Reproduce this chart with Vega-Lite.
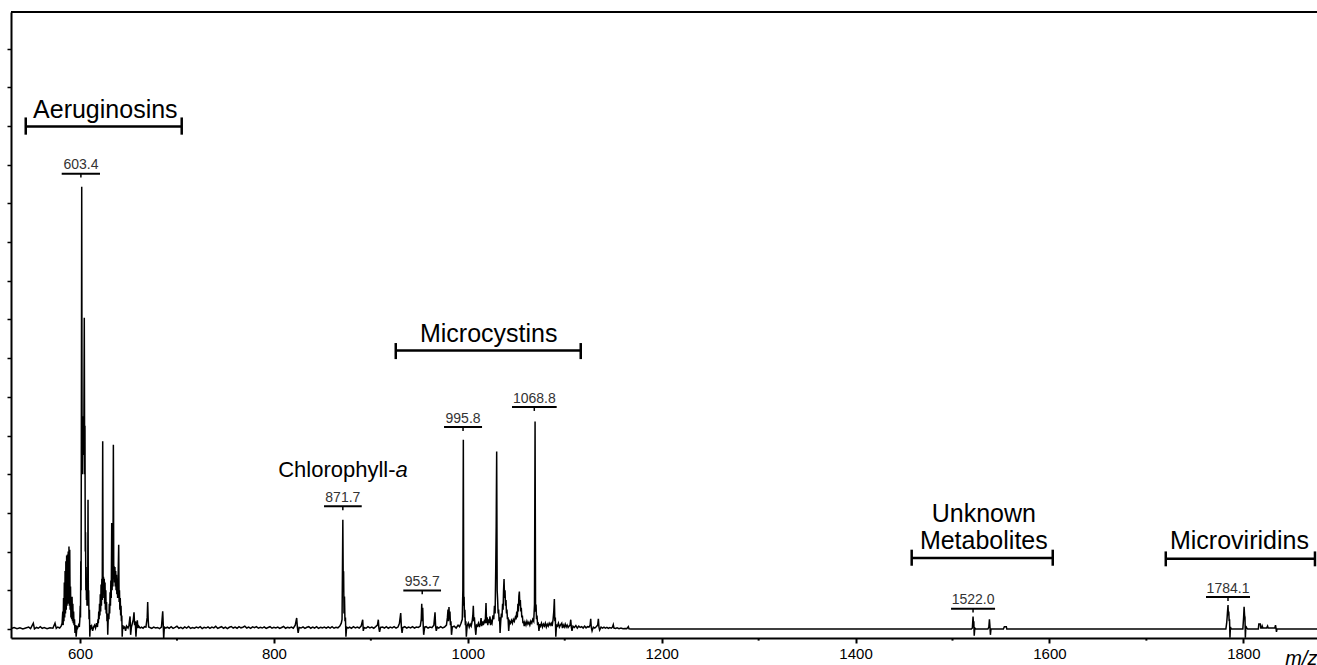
{
"$schema": "https://vega.github.io/schema/vega-lite/v6.json",
"width": 1306,
"height": 626,
"autosize": {"type": "none"},
"padding": {"left": 11, "top": 12, "right": 0, "bottom": 27},
"background": "white",
"config": {"view": {"stroke": null}},
"datasets": {
"spectrum": [
{"mz":529,"intensity":0.03},{"mz":532,"intensity":0.08},{"mz":535,"intensity":0.02},{"mz":538,"intensity":0.06},{"mz":541,"intensity":0.0},{"mz":544,"intensity":0.05},{"mz":547,"intensity":0.1},{"mz":549,"intensity":0.02},{"mz":551.8,"intensity":0.3},{"mz":553,"intensity":0.0},{"mz":555,"intensity":0.08},{"mz":557,"intensity":0.04},{"mz":559,"intensity":0.12},{"mz":561,"intensity":0.03},{"mz":563,"intensity":0.07},{"mz":566,"intensity":0.02},{"mz":569,"intensity":0.06},{"mz":572,"intensity":0.04},{"mz":574.2,"intensity":0.3},{"mz":575.5,"intensity":0.03},{"mz":577,"intensity":0.1},{"mz":579,"intensity":0.05},{"mz":580.5,"intensity":0.15},
{"mz":581.5,"intensity":0.3},{"mz":582.2,"intensity":0.9},{"mz":582.6,"intensity":0.2},{"mz":583,"intensity":1.6},{"mz":583.4,"intensity":0.4},{"mz":583.8,"intensity":2.4},{"mz":584.2,"intensity":0.6},{"mz":584.6,"intensity":3.0},{"mz":585,"intensity":0.8},{"mz":585.4,"intensity":3.5},{"mz":585.8,"intensity":1.0},{"mz":586.2,"intensity":3.8},{"mz":586.6,"intensity":1.2},{"mz":587,"intensity":3.85},{"mz":587.4,"intensity":1.3},{"mz":587.8,"intensity":4.0},{"mz":588.2,"intensity":1.4},{"mz":588.6,"intensity":4.27},{"mz":589,"intensity":1.2},{"mz":589.4,"intensity":4.1},{"mz":589.8,"intensity":1.0},{"mz":590.2,"intensity":2.2},{"mz":590.6,"intensity":0.6},{"mz":591,"intensity":1.2},{"mz":591.4,"intensity":0.5},{"mz":591.8,"intensity":1.67},{"mz":592.2,"intensity":0.4},{"mz":592.6,"intensity":1.3},{"mz":593,"intensity":0.3},{"mz":593.4,"intensity":0.9},{"mz":593.8,"intensity":0.2},{"mz":594.3,"intensity":0.5},{"mz":594.8,"intensity":-0.2},{"mz":595.3,"intensity":0.2},{"mz":596,"intensity":-0.4},{"mz":596.8,"intensity":0.1},{"mz":597.5,"intensity":0.05},{"mz":598.5,"intensity":0.2},{"mz":599.3,"intensity":0.1},{"mz":599.8,"intensity":0.5},
{"mz":600.2,"intensity":1.2},{"mz":600.5,"intensity":0.6},{"mz":600.8,"intensity":3.5},{"mz":601.1,"intensity":2.0},{"mz":601.4,"intensity":11.0},{"mz":601.75,"intensity":22.86},{"mz":602.1,"intensity":10.5},{"mz":602.4,"intensity":11.0},{"mz":602.7,"intensity":8.0},{"mz":603.0,"intensity":11.0},{"mz":603.3,"intensity":9.0},{"mz":603.6,"intensity":11.0},{"mz":603.9,"intensity":9.5},{"mz":604.4,"intensity":16.09},{"mz":604.8,"intensity":8.0},{"mz":605.1,"intensity":10.5},{"mz":605.4,"intensity":4.0},{"mz":605.7,"intensity":5.0},{"mz":606.0,"intensity":2.0},{"mz":606.3,"intensity":3.2},{"mz":606.6,"intensity":1.5},{"mz":606.9,"intensity":2.5},{"mz":607.2,"intensity":1.2},{"mz":607.5,"intensity":2.2},{"mz":607.9,"intensity":1.5},{"mz":608.25,"intensity":6.68},{"mz":608.6,"intensity":1.2},{"mz":608.9,"intensity":2.0},{"mz":609.3,"intensity":0.5},{"mz":609.7,"intensity":1.0},{"mz":610.1,"intensity":-0.4},{"mz":610.6,"intensity":0.2},{"mz":611.2,"intensity":0.05},
{"mz":612,"intensity":0.15},{"mz":613,"intensity":-0.1},{"mz":614,"intensity":0.1},{"mz":615,"intensity":0.2},{"mz":616,"intensity":0.05},{"mz":617,"intensity":0.3},{"mz":618,"intensity":0.1},
{"mz":618.5,"intensity":0.5},{"mz":618.9,"intensity":0.3},{"mz":619.3,"intensity":0.9},{"mz":619.7,"intensity":0.5},{"mz":620.1,"intensity":1.3},{"mz":620.5,"intensity":0.7},{"mz":620.9,"intensity":1.8},{"mz":621.3,"intensity":0.9},{"mz":621.7,"intensity":2.3},{"mz":622.1,"intensity":1.2},{"mz":622.5,"intensity":2.6},{"mz":622.9,"intensity":1.5},{"mz":623.4,"intensity":9.7},{"mz":623.8,"intensity":1.8},{"mz":624.2,"intensity":2.7},{"mz":624.6,"intensity":1.6},{"mz":625,"intensity":2.6},{"mz":625.4,"intensity":1.3},{"mz":625.8,"intensity":2.4},{"mz":626.2,"intensity":1.0},{"mz":626.6,"intensity":2.0},{"mz":627,"intensity":0.8},{"mz":627.4,"intensity":1.4},{"mz":627.8,"intensity":0.4},{"mz":628.2,"intensity":0.8},{"mz":628.6,"intensity":-0.3},{"mz":629,"intensity":0.4},
{"mz":629.4,"intensity":0.8},{"mz":629.8,"intensity":0.5},{"mz":630.2,"intensity":1.3},{"mz":630.6,"intensity":0.8},{"mz":631,"intensity":1.9},{"mz":631.4,"intensity":1.2},{"mz":631.8,"intensity":2.5},{"mz":632.2,"intensity":1.6},{"mz":632.7,"intensity":5.48},{"mz":633.1,"intensity":2.0},{"mz":633.5,"intensity":3.2},{"mz":633.9,"intensity":2.2},{"mz":634.4,"intensity":9.52},{"mz":634.8,"intensity":2.6},{"mz":635.2,"intensity":3.24},{"mz":635.6,"intensity":2.4},{"mz":636,"intensity":3.2},{"mz":636.4,"intensity":2.2},{"mz":636.8,"intensity":3.0},{"mz":637.2,"intensity":2.0},{"mz":637.6,"intensity":2.8},{"mz":638,"intensity":1.8},{"mz":638.4,"intensity":2.6},{"mz":638.8,"intensity":1.6},{"mz":639.2,"intensity":2.4},{"mz":639.9,"intensity":4.36},{"mz":640.3,"intensity":1.4},{"mz":640.7,"intensity":2.0},{"mz":641.1,"intensity":1.0},{"mz":641.5,"intensity":1.6},{"mz":641.9,"intensity":0.7},{"mz":642.3,"intensity":1.2},{"mz":642.7,"intensity":0.4},{"mz":643.1,"intensity":0.7},{"mz":643.5,"intensity":-0.4},{"mz":644,"intensity":0.2},{"mz":645,"intensity":0.05},
{"mz":646,"intensity":0.1},{"mz":647,"intensity":-0.1},{"mz":648,"intensity":0.15},{"mz":649.5,"intensity":0.05},{"mz":650.5,"intensity":0.2},{"mz":651.6,"intensity":0.65},{"mz":652.2,"intensity":-0.3},{"mz":653,"intensity":0.1},{"mz":654,"intensity":0.3},{"mz":655,"intensity":0.5},{"mz":655.7,"intensity":0.86},{"mz":656.3,"intensity":0.2},{"mz":657,"intensity":0.4},{"mz":657.7,"intensity":-0.4},{"mz":658.5,"intensity":0.3},{"mz":659.1,"intensity":0.45},{"mz":659.7,"intensity":0.05},{"mz":660.5,"intensity":0.15},{"mz":662,"intensity":0.05},{"mz":663.5,"intensity":0.1},{"mz":665,"intensity":0.04},{"mz":666.5,"intensity":0.12},{"mz":668,"intensity":0.1},{"mz":669.3,"intensity":0.6},{"mz":669.8,"intensity":1.4},{"mz":670.3,"intensity":0.5},{"mz":670.8,"intensity":0.1},{"mz":672,"intensity":0.08},{"mz":674,"intensity":0.03},{"mz":676,"intensity":0.1},{"mz":678,"intensity":0.05},{"mz":680,"intensity":0.08},{"mz":682,"intensity":0.02},{"mz":684,"intensity":0.1},{"mz":685.3,"intensity":0.91},{"mz":685.8,"intensity":0.3},{"mz":686.3,"intensity":-0.5},{"mz":687,"intensity":0.1},{"mz":688.5,"intensity":0.05},{"mz":690,"intensity":0.1},
{"mz":692,"intensity":0.04},{"mz":694,"intensity":0.12},{"mz":696,"intensity":0.03},{"mz":698,"intensity":0.08},{"mz":700,"intensity":0.14},{"mz":702,"intensity":0.04},{"mz":704,"intensity":0.09},{"mz":706,"intensity":0.02},{"mz":708,"intensity":0.11},{"mz":710,"intensity":0.05},{"mz":712,"intensity":0.13},{"mz":714,"intensity":0.03},{"mz":716,"intensity":0.08},{"mz":718,"intensity":0.04},{"mz":720,"intensity":0.1},{"mz":722,"intensity":0.06},{"mz":724,"intensity":0.12},{"mz":726,"intensity":0.02},{"mz":728,"intensity":0.09},{"mz":730,"intensity":0.05},{"mz":732,"intensity":0.11},{"mz":734,"intensity":0.03},{"mz":736,"intensity":0.1},{"mz":738,"intensity":0.06},{"mz":740,"intensity":0.14},{"mz":742,"intensity":0.03},{"mz":744,"intensity":0.08},{"mz":746,"intensity":0.12},{"mz":748,"intensity":0.04},{"mz":750,"intensity":0.1},{"mz":752,"intensity":0.02},{"mz":754,"intensity":0.09},{"mz":756,"intensity":0.13},{"mz":758,"intensity":0.05},{"mz":760,"intensity":0.1},{"mz":762,"intensity":0.04},{"mz":764,"intensity":0.12},{"mz":766,"intensity":0.06},{"mz":768,"intensity":0.09},{"mz":770,"intensity":0.15},{"mz":772,"intensity":0.05},{"mz":774,"intensity":0.1},{"mz":776,"intensity":0.03},{"mz":778,"intensity":0.11},{"mz":780,"intensity":0.07},{"mz":782,"intensity":0.12},{"mz":784,"intensity":0.04},{"mz":786,"intensity":0.09},{"mz":788,"intensity":0.05},{"mz":790,"intensity":0.11},{"mz":792,"intensity":0.03},{"mz":794,"intensity":0.08},{"mz":796,"intensity":0.12},{"mz":798,"intensity":0.04},{"mz":800,"intensity":0.09},{"mz":802,"intensity":0.05},{"mz":804,"intensity":0.1},{"mz":806,"intensity":0.03},{"mz":808,"intensity":0.08},{"mz":810,"intensity":0.13},{"mz":812,"intensity":0.04},{"mz":814,"intensity":0.09},{"mz":816,"intensity":0.06},{"mz":818,"intensity":0.1},{"mz":820,"intensity":0.04},{"mz":822,"intensity":0.2},{"mz":823.5,"intensity":0.57},{"mz":824.2,"intensity":0.1},{"mz":825,"intensity":-0.2},{"mz":826,"intensity":0.08},{"mz":828,"intensity":0.05},{"mz":830,"intensity":0.11},{"mz":832,"intensity":0.03},{"mz":834,"intensity":0.09},{"mz":836,"intensity":0.12},{"mz":838,"intensity":0.04},{"mz":840,"intensity":0.1},{"mz":842,"intensity":0.05},{"mz":844,"intensity":0.12},{"mz":846,"intensity":0.03},{"mz":848,"intensity":0.09},{"mz":850,"intensity":0.06},{"mz":852,"intensity":0.1},{"mz":854,"intensity":0.04},{"mz":856,"intensity":0.11},{"mz":858,"intensity":0.05},{"mz":860,"intensity":0.12},{"mz":862,"intensity":0.04},{"mz":864,"intensity":0.09},{"mz":866,"intensity":0.06},{"mz":868,"intensity":0.15},{"mz":869.5,"intensity":0.3},
{"mz":870.3,"intensity":0.5},{"mz":870.7,"intensity":2.98},{"mz":871.1,"intensity":5.65},{"mz":871.5,"intensity":2.5},{"mz":871.9,"intensity":2.98},{"mz":872.3,"intensity":0.8},{"mz":872.8,"intensity":1.68},{"mz":873.3,"intensity":0.4},{"mz":873.8,"intensity":0.6},{"mz":874.3,"intensity":-0.4},{"mz":875,"intensity":0.1},{"mz":876.5,"intensity":0.05},
{"mz":878,"intensity":0.1},{"mz":880,"intensity":0.04},{"mz":882,"intensity":0.12},{"mz":884,"intensity":0.06},{"mz":886,"intensity":0.1},{"mz":888,"intensity":0.05},{"mz":890,"intensity":0.15},{"mz":891.6,"intensity":0.48},{"mz":892.2,"intensity":-0.1},{"mz":893,"intensity":0.08},{"mz":895,"intensity":0.04},{"mz":897,"intensity":0.12},{"mz":899,"intensity":0.06},{"mz":901,"intensity":0.1},{"mz":903,"intensity":0.04},{"mz":905,"intensity":0.12},{"mz":906.8,"intensity":0.2},{"mz":907.7,"intensity":0.48},{"mz":908.3,"intensity":0.05},{"mz":909,"intensity":-0.15},{"mz":910,"intensity":0.08},{"mz":912,"intensity":0.1},{"mz":914,"intensity":0.05},{"mz":916,"intensity":0.12},{"mz":918,"intensity":0.04},{"mz":920,"intensity":0.1},{"mz":922,"intensity":0.06},{"mz":924,"intensity":0.12},{"mz":926,"intensity":0.05},{"mz":928,"intensity":0.1},{"mz":929.5,"intensity":0.3},{"mz":930.8,"intensity":0.82},{"mz":931.5,"intensity":0.1},{"mz":932.2,"intensity":-0.2},{"mz":933,"intensity":0.08},{"mz":935,"intensity":0.12},{"mz":937,"intensity":0.05},{"mz":939,"intensity":0.1},{"mz":941,"intensity":0.06},{"mz":943,"intensity":0.12},{"mz":945,"intensity":0.05},{"mz":947,"intensity":0.1},{"mz":949,"intensity":0.08},{"mz":951,"intensity":0.15},{"mz":952,"intensity":0.5},{"mz":952.5,"intensity":1.31},{"mz":953,"intensity":0.4},{"mz":953.5,"intensity":1.1},{"mz":954,"intensity":0.2},{"mz":954.5,"intensity":-0.3},{"mz":955.5,"intensity":0.1},{"mz":957,"intensity":0.12},{"mz":959,"intensity":0.05},{"mz":961,"intensity":0.1},{"mz":963,"intensity":0.07},{"mz":965,"intensity":0.2},{"mz":966.2,"intensity":0.86},{"mz":966.8,"intensity":0.15},{"mz":967.5,"intensity":-0.1},{"mz":968.5,"intensity":0.1},{"mz":970,"intensity":0.05},{"mz":972,"intensity":0.12},{"mz":974,"intensity":0.06},{"mz":976,"intensity":0.1},{"mz":978,"intensity":0.2},{"mz":979,"intensity":0.6},{"mz":979.6,"intensity":1.0},{"mz":980.1,"intensity":0.4},{"mz":980.6,"intensity":1.14},{"mz":981.1,"intensity":0.5},{"mz":981.6,"intensity":0.9},{"mz":982.1,"intensity":0.2},{"mz":982.6,"intensity":0.4},{"mz":983.2,"intensity":-0.3},{"mz":984,"intensity":0.1},{"mz":986,"intensity":0.15},{"mz":988,"intensity":0.05},{"mz":990,"intensity":0.2},{"mz":991.5,"intensity":0.12},{"mz":993,"intensity":0.3},{"mz":994.3,"intensity":0.5},
{"mz":994.9,"intensity":2.0},{"mz":995.4,"intensity":9.78},{"mz":995.8,"intensity":1.2},{"mz":996.2,"intensity":1.67},{"mz":996.6,"intensity":0.6},{"mz":997.0,"intensity":1.0},{"mz":997.5,"intensity":0.2},{"mz":998,"intensity":0.4},{"mz":998.5,"intensity":-0.4},{"mz":999.3,"intensity":0.15},{"mz":1000.5,"intensity":0.3},{"mz":1001.5,"intensity":0.1},{"mz":1002.5,"intensity":0.25},{"mz":1003.5,"intensity":0.15},{"mz":1004.5,"intensity":0.4},{"mz":1005.2,"intensity":0.7},{"mz":1005.7,"intensity":1.2},{"mz":1006.2,"intensity":0.4},{"mz":1006.8,"intensity":0.6},{"mz":1007.5,"intensity":0.1},{"mz":1008.3,"intensity":-0.3},{"mz":1009,"intensity":0.2},{"mz":1010,"intensity":0.15},{"mz":1011,"intensity":0.3},{"mz":1012,"intensity":0.1},{"mz":1013,"intensity":0.3},{"mz":1013.7,"intensity":0.57},{"mz":1014.3,"intensity":0.15},{"mz":1015.3,"intensity":0.4},{"mz":1016,"intensity":0.2},{"mz":1017,"intensity":0.4},{"mz":1018,"intensity":0.3},{"mz":1018.8,"intensity":1.34},{"mz":1019.4,"intensity":0.3},{"mz":1020,"intensity":0.6},{"mz":1020.6,"intensity":0.2},{"mz":1021.3,"intensity":0.5},{"mz":1021.9,"intensity":0.3},{"mz":1022.9,"intensity":0.65},{"mz":1023.5,"intensity":0.2},{"mz":1024.2,"intensity":0.4},{"mz":1025,"intensity":0.3},{"mz":1026,"intensity":0.7},{"mz":1026.8,"intensity":0.5},{"mz":1027.5,"intensity":1.2},{"mz":1028.2,"intensity":0.8},{"mz":1028.8,"intensity":3.0},{"mz":1029.3,"intensity":5.3},{"mz":1029.8,"intensity":9.18},{"mz":1030.3,"intensity":2.0},{"mz":1030.8,"intensity":1.5},{"mz":1031.3,"intensity":0.8},{"mz":1031.8,"intensity":1.0},{"mz":1032.3,"intensity":0.4},{"mz":1032.8,"intensity":0.6},{"mz":1033.3,"intensity":-0.2},{"mz":1034,"intensity":0.4},{"mz":1034.7,"intensity":0.8},{"mz":1035.3,"intensity":0.6},{"mz":1035.9,"intensity":1.3},{"mz":1036.4,"intensity":1.0},{"mz":1036.9,"intensity":2.0},{"mz":1037.4,"intensity":2.58},{"mz":1037.9,"intensity":1.6},{"mz":1038.4,"intensity":2.0},{"mz":1038.9,"intensity":1.2},{"mz":1039.4,"intensity":1.5},{"mz":1039.9,"intensity":0.8},{"mz":1040.4,"intensity":1.0},{"mz":1040.9,"intensity":0.5},{"mz":1041.5,"intensity":0.6},{"mz":1042.2,"intensity":-0.1},{"mz":1043,"intensity":0.4},{"mz":1044,"intensity":0.3},{"mz":1045,"intensity":0.45},{"mz":1046,"intensity":0.3},{"mz":1047,"intensity":0.5},{"mz":1048,"intensity":0.4},{"mz":1049,"intensity":0.6},{"mz":1049.8,"intensity":0.5},{"mz":1050.5,"intensity":0.9},{"mz":1051.1,"intensity":0.6},{"mz":1051.7,"intensity":1.3},{"mz":1052.2,"intensity":0.9},{"mz":1052.7,"intensity":1.7},{"mz":1053.2,"intensity":1.94},{"mz":1053.7,"intensity":1.2},{"mz":1054.2,"intensity":1.5},{"mz":1054.7,"intensity":0.9},{"mz":1055.2,"intensity":1.1},{"mz":1055.7,"intensity":0.6},{"mz":1056.3,"intensity":0.7},{"mz":1056.9,"intensity":0.3},{"mz":1057.5,"intensity":0.4},{"mz":1058.2,"intensity":0.15},{"mz":1059,"intensity":0.35},{"mz":1060,"intensity":0.2},{"mz":1061,"intensity":0.4},{"mz":1062,"intensity":0.25},{"mz":1063,"intensity":0.35},{"mz":1064,"intensity":0.2},{"mz":1065,"intensity":0.4},{"mz":1066,"intensity":0.3},{"mz":1067,"intensity":0.5},{"mz":1068,"intensity":0.4},{"mz":1068.8,"intensity":1.26},{"mz":1069.4,"intensity":10.73},{"mz":1069.9,"intensity":0.9},{"mz":1070.4,"intensity":1.26},{"mz":1070.9,"intensity":0.5},{"mz":1071.4,"intensity":0.7},{"mz":1072,"intensity":0.2},{"mz":1072.7,"intensity":0.35},{"mz":1073.4,"intensity":-0.1},{"mz":1074.2,"intensity":0.25},{"mz":1075,"intensity":0.15},{"mz":1076,"intensity":0.3},{"mz":1077,"intensity":0.1},{"mz":1078,"intensity":0.25},{"mz":1079,"intensity":0.15},{"mz":1080,"intensity":0.3},{"mz":1081,"intensity":0.1},{"mz":1082,"intensity":0.25},{"mz":1083,"intensity":0.15},{"mz":1084,"intensity":0.3},{"mz":1085,"intensity":0.2},{"mz":1086,"intensity":0.3},{"mz":1087,"intensity":0.15},{"mz":1088,"intensity":0.5},{"mz":1088.7,"intensity":0.9},{"mz":1089.3,"intensity":1.55},{"mz":1089.8,"intensity":0.4},{"mz":1090.3,"intensity":0.6},{"mz":1090.8,"intensity":-0.4},{"mz":1091.5,"intensity":0.2},{"mz":1092.5,"intensity":0.15},{"mz":1093.5,"intensity":0.3},{"mz":1094.5,"intensity":0.1},{"mz":1095.5,"intensity":0.2},{"mz":1096.9,"intensity":0.3},{"mz":1097.6,"intensity":0.05},{"mz":1098.5,"intensity":0.2},{"mz":1099.5,"intensity":0.1},{"mz":1100.5,"intensity":0.25},{"mz":1101.5,"intensity":0.1},{"mz":1102.5,"intensity":0.2},{"mz":1103.5,"intensity":0.08},{"mz":1104.5,"intensity":0.15},{"mz":1105.5,"intensity":0.2},{"mz":1106.2,"intensity":0.48},{"mz":1106.8,"intensity":0.1},{"mz":1107.5,"intensity":-0.1},{"mz":1108.5,"intensity":0.15},{"mz":1110,"intensity":0.08},{"mz":1111.5,"intensity":0.18},{"mz":1113,"intensity":0.05},{"mz":1114.5,"intensity":0.15},{"mz":1116,"intensity":0.08},{"mz":1117.5,"intensity":0.12},{"mz":1119,"intensity":0.05},{"mz":1120.5,"intensity":0.15},{"mz":1122,"intensity":0.06},{"mz":1123.5,"intensity":0.12},{"mz":1125,"intensity":0.1},{"mz":1126.2,"intensity":0.2},{"mz":1126.8,"intensity":0.53},{"mz":1127.4,"intensity":0.08},{"mz":1128.2,"intensity":-0.1},{"mz":1129.5,"intensity":0.1},{"mz":1131,"intensity":0.05},{"mz":1132.5,"intensity":0.12},{"mz":1134,"intensity":0.2},{"mz":1134.7,"intensity":0.53},{"mz":1135.3,"intensity":0.1},{"mz":1136,"intensity":-0.05},{"mz":1137.5,"intensity":0.1},{"mz":1139,"intensity":0.05},{"mz":1140.5,"intensity":0.1},{"mz":1142,"intensity":0.04},{"mz":1143.5,"intensity":0.08},{"mz":1145,"intensity":0.03},{"mz":1146.5,"intensity":0.07},{"mz":1148,"intensity":0.04},{"mz":1149.3,"intensity":0.1},{"mz":1150.1,"intensity":0.22},{"mz":1150.8,"intensity":0.05},{"mz":1152.5,"intensity":0.03},{"mz":1154,"intensity":0.06},{"mz":1156,"intensity":0.02},{"mz":1158,"intensity":0.05},{"mz":1160,"intensity":0.01},{"mz":1162,"intensity":0.03},{"mz":1164,"intensity":0.02},{"mz":1165.6,"intensity":0.12},{"mz":1166.3,"intensity":0.01},{"mz":1168,"intensity":0.0},{"mz":1170,"intensity":0},
{"mz":1300,"intensity":0},{"mz":1519.5,"intensity":0},{"mz":1520.5,"intensity":0.05},{"mz":1521.2,"intensity":0.65},{"mz":1521.6,"intensity":0.3},{"mz":1522,"intensity":0.4},{"mz":1522.4,"intensity":-0.35},{"mz":1523,"intensity":0.05},{"mz":1524,"intensity":0},{"mz":1536.5,"intensity":0},{"mz":1537.5,"intensity":0.1},{"mz":1538.1,"intensity":0.5},{"mz":1538.6,"intensity":0.15},{"mz":1539.1,"intensity":-0.3},{"mz":1539.7,"intensity":0},{"mz":1552.5,"intensity":0},{"mz":1553.5,"intensity":0.12},{"mz":1555.5,"intensity":0.12},{"mz":1556,"intensity":0},
{"mz":1782,"intensity":0},{"mz":1782.8,"intensity":0.3},{"mz":1783.3,"intensity":0.6},{"mz":1783.7,"intensity":0.9},{"mz":1784.2,"intensity":1.24},{"mz":1784.6,"intensity":0.7},{"mz":1785,"intensity":0.9},{"mz":1785.4,"intensity":0.4},{"mz":1785.8,"intensity":0.5},{"mz":1786.2,"intensity":-0.45},{"mz":1786.7,"intensity":0.1},{"mz":1787.5,"intensity":0},{"mz":1799.5,"intensity":0},{"mz":1800.3,"intensity":0.6},{"mz":1800.8,"intensity":1.15},{"mz":1801.3,"intensity":0.7},{"mz":1801.7,"intensity":0.6},{"mz":1802.1,"intensity":-0.45},{"mz":1802.6,"intensity":0.15},{"mz":1803.5,"intensity":0.05},{"mz":1804.5,"intensity":0},{"mz":1815.5,"intensity":0},{"mz":1816,"intensity":0.26},{"mz":1817.5,"intensity":0.26},{"mz":1818,"intensity":0.05},{"mz":1819,"intensity":0.05},{"mz":1819.5,"intensity":0.15},{"mz":1820.2,"intensity":0.05},{"mz":1824,"intensity":0.05},{"mz":1825,"intensity":0.15},{"mz":1825.6,"intensity":0.05},{"mz":1832.5,"intensity":0.05},{"mz":1833.2,"intensity":0.2},{"mz":1833.7,"intensity":0.05},{"mz":1834.2,"intensity":-0.15},{"mz":1834.7,"intensity":0},{"mz":1876,"intensity":0}
],
"minorTicks": [{"mz":700},{"mz":900},{"mz":1100},{"mz":1300},{"mz":1500},{"mz":1700}],
"frame": [{"top": 31.89}],
"brackets": [
{"group":"Aeruginosins","start":544.0,"end":704.9,"level":25.97,"top":26.44,"bottom":25.55},
{"group":"Microcystins","start":925.7,"end":1116.5,"level":14.39,"top":14.78,"bottom":13.95},
{"group":"Unknown Metabolites","start":1457.9,"end":1603.4,"level":3.67,"top":4.10,"bottom":3.27},
{"group":"Microviridins","start":1720.0,"end":1873.9,"level":3.63,"top":4.01,"bottom":3.24}
],
"groupLabels": [
{"text":"Aeruginosins","mz":626.1,"level":26.41},
{"text":"Microcystins","mz":1021.6,"level":14.81},
{"text":"Unknown","mz":1532.3,"level":5.51},
{"text":"Metabolites","mz":1532.3,"level":4.13},
{"text":"Microviridins","mz":1796.0,"level":4.12}
],
"compound": [
{"text":"Chlorophyll-","mz":925.5,"level":7.86},
{"text":"a","mz":925.5,"level":7.86}
],
"peakLabels": [
{"label":"603.4","mz":600.9,"start":581.1,"end":620.6,"level":23.53,"tickEnd":23.33},
{"label":"871.7","mz":871.1,"start":851.7,"end":890.6,"level":6.34,"tickEnd":6.14},
{"label":"953.7","mz":953.0,"start":933.5,"end":972.4,"level":1.99,"tickEnd":1.79},
{"label":"995.8","mz":995.1,"start":975.5,"end":1014.7,"level":10.44,"tickEnd":10.24},
{"label":"1068.8","mz":1068.6,"start":1045.6,"end":1091.7,"level":11.47,"tickEnd":11.27},
{"label":"1522.0","mz":1521.2,"start":1498.5,"end":1543.9,"level":1.05,"tickEnd":0.85},
{"label":"1784.1","mz":1784.2,"start":1761.5,"end":1806.9,"level":1.65,"tickEnd":1.45}
]
},
"layer": [
{
"data": {"name": "spectrum"},
"mark": {"type": "line", "color": "black", "strokeWidth": 1.5, "clip": true, "interpolate": "linear"},
"encoding": {
"x": {"field": "mz", "type": "quantitative",
"scale": {"domain": [528.8, 1876.0], "nice": false, "zero": false},
"axis": {"orient": "bottom", "values": [600,800,1000,1200,1400,1600,1800], "format": "d",
"tickSize": 5,
"tickWidth": 2, "tickColor": "black", "domainColor": "black", "domainWidth": 2,
"labelFont": "Liberation Sans", "labelFontSize": 15, "labelColor": "black", "labelPadding": 3,
"labelFlush": false, "labelOverlap": false, "grid": false,
"title": "m/z", "titleFont": "Liberation Sans", "titleFontStyle": "italic", "titleFontWeight": "normal", "titleFontSize": 20, "titleColor": "black",
"titleAnchor": "end", "titleAlign": "right", "titleBaseline": "alphabetic", "titleX": 1306, "titleY": 26}},
"y": {"field": "intensity", "type": "quantitative",
"scale": {"domain": [-0.465, 31.89], "nice": false, "zero": false},
"axis": {"orient": "left", "values": [0,1,2,3,4,5,6,7,8,9,10,11,12,13,14,15,16,17,18,19,20,21,22,23,24,25,26,27,28,29,30,31],
"labels": false, "tickSize": 4, "tickWidth": 1.5, "tickColor": "black", "domainColor": "black", "domainWidth": 2, "grid": false, "title": null}}
}
},
{
"data": {"name": "frame"},
"mark": {"type": "rule", "color": "black", "strokeWidth": 2},
"encoding": {"y": {"field": "top", "type": "quantitative"}}
},
{
"data": {"name": "minorTicks"},
"mark": {"type": "rule", "color": "black", "strokeWidth": 2},
"encoding": {
"x": {"field": "mz", "type": "quantitative"},
"y": {"datum": -0.465, "type": "quantitative"},
"y2": {"datum": -0.6}
}
},
{
"data": {"name": "brackets"},
"mark": {"type": "rule", "color": "black", "strokeWidth": 2.5},
"encoding": {
"x": {"field": "start", "type": "quantitative"},
"x2": {"field": "end"},
"y": {"field": "level", "type": "quantitative"}
}
},
{
"data": {"name": "brackets"},
"mark": {"type": "rule", "color": "black", "strokeWidth": 2.5},
"encoding": {
"x": {"field": "start", "type": "quantitative"},
"y": {"field": "top", "type": "quantitative"},
"y2": {"field": "bottom"}
}
},
{
"data": {"name": "brackets"},
"mark": {"type": "rule", "color": "black", "strokeWidth": 2.5},
"encoding": {
"x": {"field": "end", "type": "quantitative"},
"y": {"field": "top", "type": "quantitative"},
"y2": {"field": "bottom"}
}
},
{
"data": {"name": "groupLabels"},
"mark": {"type": "text", "font": "Liberation Sans", "fontSize": 25, "color": "black", "align": "center", "baseline": "alphabetic"},
"encoding": {
"x": {"field": "mz", "type": "quantitative"},
"y": {"field": "level", "type": "quantitative"},
"text": {"field": "text", "type": "nominal"}
}
},
{
"data": {"name": "compound"},
"transform": [{"filter": "datum.text === 'Chlorophyll-'"}],
"mark": {"type": "text", "font": "Liberation Sans", "fontSize": 22, "color": "black", "align": "right", "baseline": "alphabetic"},
"encoding": {
"x": {"field": "mz", "type": "quantitative"},
"y": {"field": "level", "type": "quantitative"},
"text": {"field": "text", "type": "nominal"}
}
},
{
"data": {"name": "compound"},
"transform": [{"filter": "datum.text === 'a'"}],
"mark": {"type": "text", "font": "Liberation Sans", "fontSize": 22, "fontStyle": "italic", "color": "black", "align": "left", "baseline": "alphabetic"},
"encoding": {
"x": {"field": "mz", "type": "quantitative"},
"y": {"field": "level", "type": "quantitative"},
"text": {"field": "text", "type": "nominal"}
}
},
{
"data": {"name": "peakLabels"},
"mark": {"type": "rule", "color": "black", "strokeWidth": 2},
"encoding": {
"x": {"field": "start", "type": "quantitative"},
"x2": {"field": "end"},
"y": {"field": "level", "type": "quantitative"}
}
},
{
"data": {"name": "peakLabels"},
"mark": {"type": "rule", "color": "black", "strokeWidth": 1.5},
"encoding": {
"x": {"field": "mz", "type": "quantitative"},
"y": {"field": "level", "type": "quantitative"},
"y2": {"field": "tickEnd"}
}
},
{
"data": {"name": "peakLabels"},
"mark": {"type": "text", "font": "Liberation Sans", "fontSize": 14, "color": "#333333", "align": "center", "baseline": "alphabetic", "dy": -4.5},
"encoding": {
"x": {"field": "mz", "type": "quantitative"},
"y": {"field": "level", "type": "quantitative"},
"text": {"field": "label", "type": "nominal"}
}
}
]
}
